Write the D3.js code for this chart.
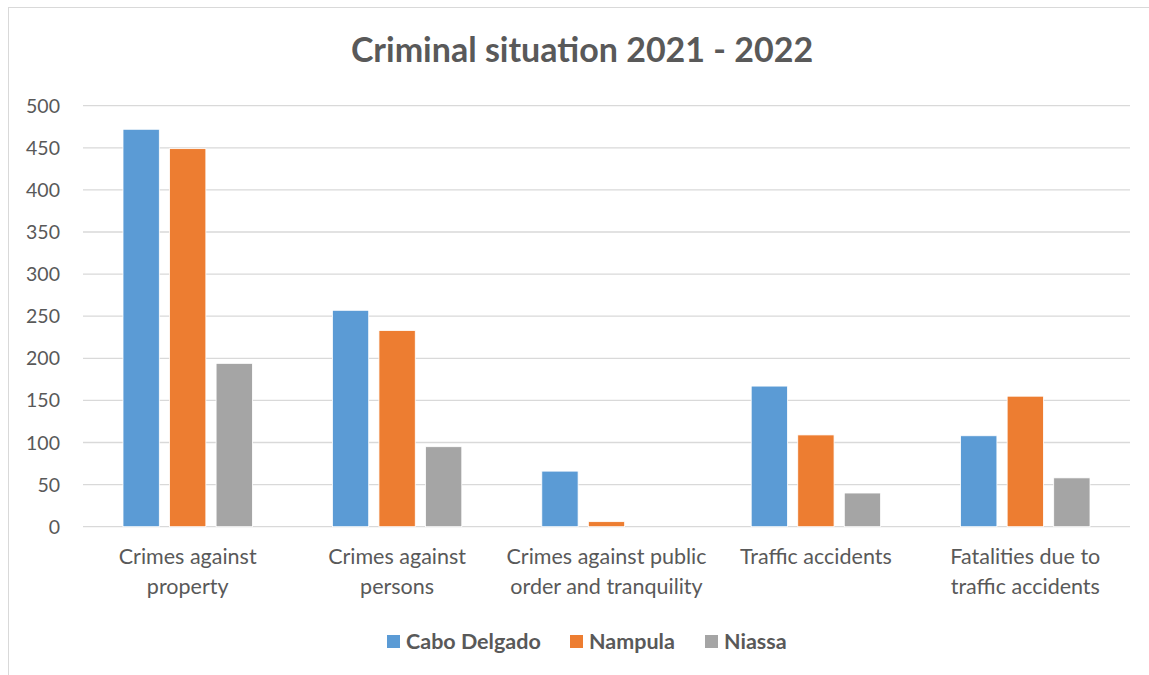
<!DOCTYPE html>
<html>
<head>
<meta charset="utf-8">
<script src="https://cdn.jsdelivr.net/npm/d3@7"></script>
<style>
  body { margin: 0; background: #fff; }
  text { font-family: "Lato", "Open Sans", sans-serif; fill: #595959; }
</style>
</head>
<body>
<div id="chart"></div>
<script>
// chart data
var categories = [
    "Crimes against\nproperty",
    "Crimes against\npersons",
    "Crimes against public\norder and tranquility",
    "Traffic accidents",
    "Fatalities due to\ntraffic accidents"
];
var seriesNames = ["Cabo Delgado", "Nampula", "Niassa"];
var caboDelgado = [472, 257, 66, 167, 108];
var nampula = [449, 233, 6, 109, 155];
var niassa = [194, 95, 0, 40, 58];
var yTicks = [0, 50, 100, 150, 200, 250, 300, 350, 400, 450, 500];
var colors = ["#5b9bd5", "#ed7d31", "#a5a5a5"];

var areaWidth = 1149, areaHeight = 675;
var plotLeft = 83, plotRight = 1130, plotTop = 105.7, plotBottom = 526.7;

var svg = d3.select("#chart").append("svg")
    .attr("width", areaWidth).attr("height", areaHeight);

// outer frame
svg.append("rect")
    .attr("x", 8.5).attr("y", 7.5)
    .attr("width", 1150).attr("height", 670)
    .style("fill", "none").style("stroke", "#d9d9d9");

// title
svg.append("text")
    .attr("x", 582).attr("y", 62)
    .attr("text-anchor", "middle")
    .style("font-size", "34px").style("font-weight", "bold")
    .text("Criminal situation 2021 - 2022");

var yScale = d3.scaleLinear().domain([0, 500]).range([plotBottom, plotTop]);
var xScale = d3.scaleBand().domain(d3.range(categories.length)).range([plotLeft, plotRight]);
var innerScale = d3.scaleBand().domain(d3.range(3)).range([40, xScale.bandwidth() - 40]).paddingInner(0.22);

// gridlines
svg.selectAll("line.grid")
    .data(yTicks)
    .enter()
    .append("line")
    .attr("class", "grid")
    .attr("x1", plotLeft).attr("x2", plotRight)
    .attr("y1", function(d) { return yScale(d); })
    .attr("y2", function(d) { return yScale(d); })
    .style("stroke", "#d9d9d9").style("stroke-width", 1.3);

// y tick labels
svg.selectAll("text.ytick")
    .data(yTicks)
    .enter()
    .append("text")
    .attr("class", "ytick")
    .attr("x", 60)
    .attr("y", function(d) { return yScale(d) + 7; })
    .attr("text-anchor", "end")
    .style("font-size", "19.5px")
    .text(function(d) { return d; });

// bars
var allSeries = [caboDelgado, nampula, niassa];
allSeries.forEach(function(values, s) {
    svg.selectAll("rect.s" + s)
        .data(values)
        .enter()
        .append("rect")
        .attr("class", "s" + s)
        .attr("x", function(d, i) { return xScale(i) + innerScale(s); })
        .attr("y", function(d) { return yScale(d); })
        .attr("width", innerScale.bandwidth())
        .attr("height", function(d) { return plotBottom - yScale(d); })
        .style("fill", colors[s])
        .style("stroke", "#fff").style("stroke-width", 0.8);
});

// category labels
categories.forEach(function(c, i) {
    var cx = xScale(i) + xScale.bandwidth() / 2;
    var t = svg.append("text")
        .attr("text-anchor", "middle")
        .attr("x", cx)
        .attr("y", 564)
        .style("font-size", "21.5px");
    c.split("\n").forEach(function(line, k) {
        t.append("tspan")
            .attr("x", cx)
            .attr("dy", k === 0 ? 0 : 30)
            .text(line);
    });
});

// legend
var legendX = [387, 570, 705];
seriesNames.forEach(function(name, s) {
    svg.append("rect")
        .attr("x", legendX[s]).attr("y", 635)
        .attr("width", 13).attr("height", 13)
        .style("fill", colors[s]);
    svg.append("text")
        .attr("x", legendX[s] + 19).attr("y", 649)
        .style("font-size", "21.5px").style("font-weight", "bold")
        .text(name);
});
</script>
</body>
</html>
